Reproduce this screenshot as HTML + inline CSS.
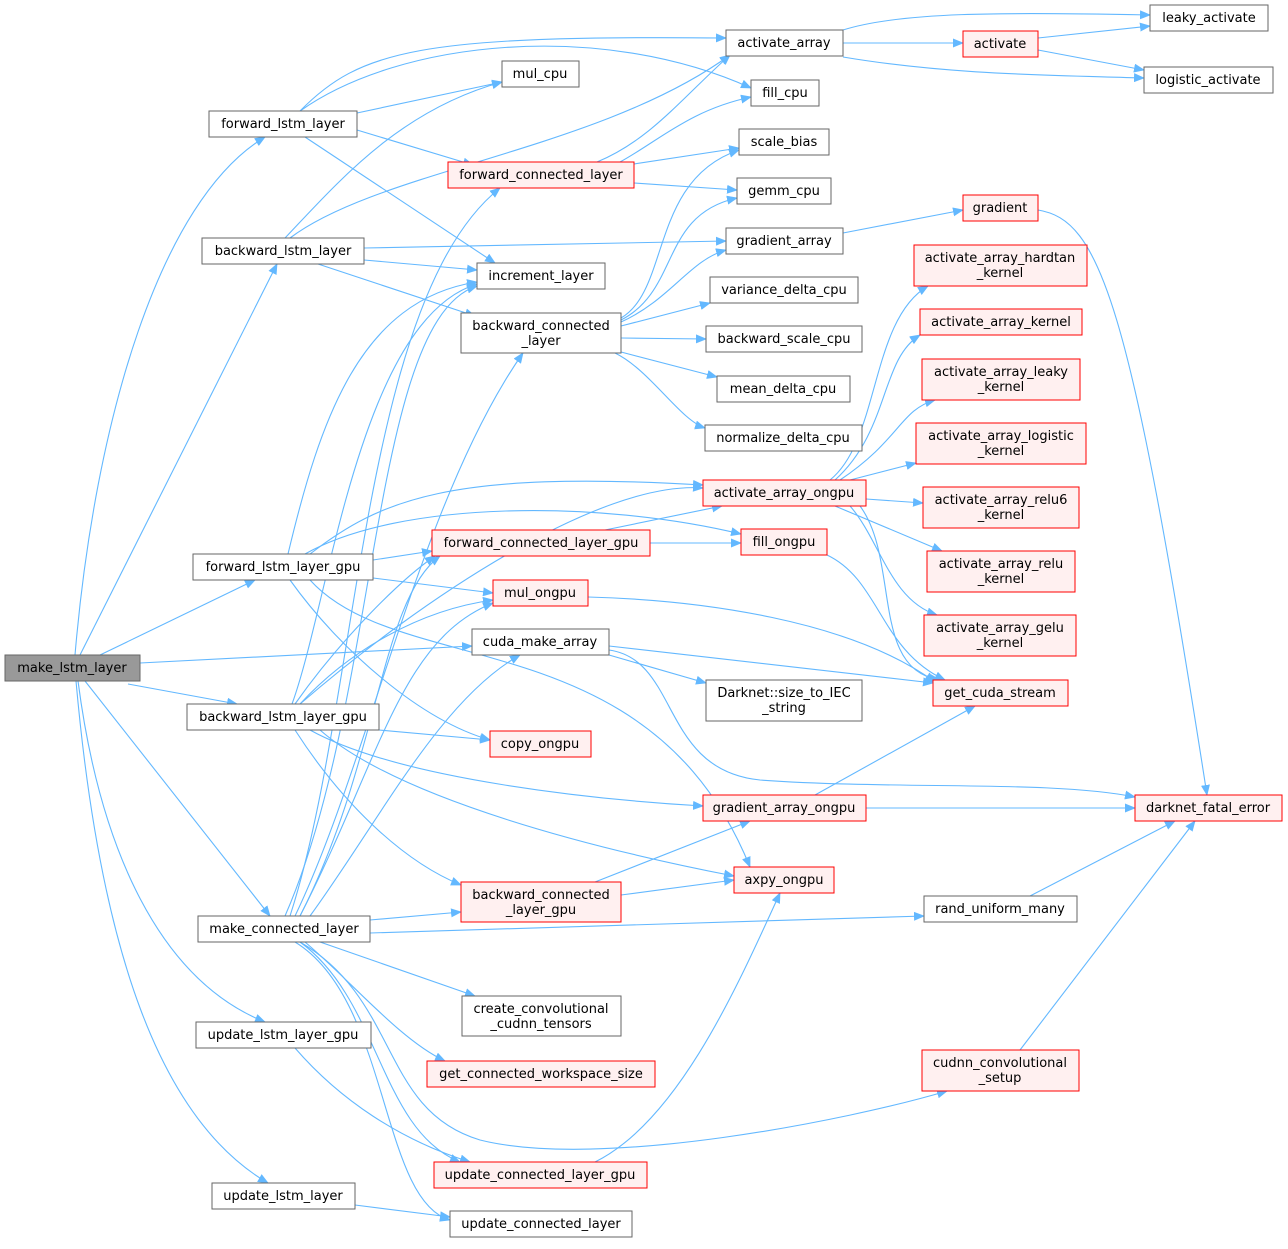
<!DOCTYPE html>
<html><head><meta charset="utf-8"><style>
html,body{margin:0;padding:0;background:#fff}
svg text{font-family:"DejaVu Sans","Liberation Sans",sans-serif;font-size:13px;fill:#000;text-anchor:middle}
.e{fill:none;stroke:#63b8ff;stroke-width:1.1;marker-end:url(#a)}
.n{fill:#fff;stroke:#666;stroke-width:1}
.r{fill:#fff0f0;stroke:#f00;stroke-width:1}
.g{fill:#999;stroke:#666;stroke-width:1}
</style></head><body>
<svg width="1288" height="1244" viewBox="0 0 1288 1244" xmlns="http://www.w3.org/2000/svg">
<defs><marker id="a" markerWidth="11" markerHeight="9" refX="10" refY="4.5" orient="auto" markerUnits="userSpaceOnUse"><path d="M0,0L11,4.5L0,9z" fill="#63b8ff"/></marker></defs>
<g>
<path class="e" d="M75,655 C95,420 160,200 265,137"/>
<path class="e" d="M80,655 L277,264"/>
<path class="e" d="M100,655 L255,580"/>
<path class="e" d="M140,663 L472,646"/>
<path class="e" d="M128,684 L237,704"/>
<path class="e" d="M85,681 L270,916"/>
<path class="e" d="M78,681 C100,850 160,980 265,1022"/>
<path class="e" d="M76,681 C100,950 160,1120 268,1183"/>
<path class="e" d="M300,111 C360,50 420,35 726,38"/>
<path class="e" d="M300,111 C400,40 600,20 751,88"/>
<path class="e" d="M357,113 L502,82"/>
<path class="e" d="M357,130 L473,165"/>
<path class="e" d="M305,137 L495,263"/>
<path class="e" d="M285,238 C340,180 400,110 502,82"/>
<path class="e" d="M290,238 C380,170 600,150 730,55"/>
<path class="e" d="M364,248 L726,241"/>
<path class="e" d="M364,260 L477,270"/>
<path class="e" d="M318,264 L475,316"/>
<path class="e" d="M597,162 C650,140 680,100 730,55"/>
<path class="e" d="M620,162 C660,140 690,110 751,97"/>
<path class="e" d="M634,164 L739,148"/>
<path class="e" d="M634,183 L737,190"/>
<path class="e" d="M621,318 C670,290 650,180 739,150"/>
<path class="e" d="M621,320 C680,290 660,215 737,198"/>
<path class="e" d="M621,322 C670,300 690,260 726,250"/>
<path class="e" d="M621,326 L710,303"/>
<path class="e" d="M621,338 L706,339"/>
<path class="e" d="M621,352 L717,377"/>
<path class="e" d="M615,353 C650,370 680,420 705,428"/>
<path class="e" d="M288,554 C320,420 360,300 477,282"/>
<path class="e" d="M310,554 C380,500 450,470 703,485"/>
<path class="e" d="M305,554 C400,500 600,500 741,534"/>
<path class="e" d="M373,560 L432,551"/>
<path class="e" d="M373,578 L493,593"/>
<path class="e" d="M290,580 C340,650 420,720 490,740"/>
<path class="e" d="M310,580 C400,680 650,620 750,867"/>
<path class="e" d="M292,704 C330,600 360,320 477,284"/>
<path class="e" d="M300,704 C420,600 600,480 703,488"/>
<path class="e" d="M300,704 C350,650 420,610 493,600"/>
<path class="e" d="M379,730 L490,740"/>
<path class="e" d="M310,730 C400,780 600,800 703,806"/>
<path class="e" d="M320,730 C400,800 600,850 734,876"/>
<path class="e" d="M295,730 C340,800 400,860 461,885"/>
<path class="e" d="M295,704 C340,640 400,580 435,556"/>
<path class="e" d="M290,916 C360,700 360,300 500,188"/>
<path class="e" d="M295,916 C370,760 420,500 523,353"/>
<path class="e" d="M285,916 C380,700 370,320 477,286"/>
<path class="e" d="M300,916 C380,760 380,600 440,556"/>
<path class="e" d="M300,916 C380,760 400,640 493,603"/>
<path class="e" d="M310,916 C380,820 440,700 520,655"/>
<path class="e" d="M370,920 L461,912"/>
<path class="e" d="M370,933 L924,916"/>
<path class="e" d="M320,942 L475,996"/>
<path class="e" d="M305,942 C350,980 400,1040 445,1061"/>
<path class="e" d="M300,942 C380,1000 380,1130 460,1162"/>
<path class="e" d="M295,942 C390,1000 380,1200 450,1220"/>
<path class="e" d="M300,942 C400,1000 380,1110 480,1140 C600,1170 850,1120 947,1091"/>
<path class="e" d="M295,1048 C340,1100 400,1140 470,1162"/>
<path class="e" d="M355,1205 L450,1217"/>
<path class="e" d="M843,30 C900,12 1000,12 1150,15"/>
<path class="e" d="M843,43 L963,43"/>
<path class="e" d="M843,57 C950,75 1050,75 1144,78"/>
<path class="e" d="M1038,38 L1150,26"/>
<path class="e" d="M1038,50 L1144,70"/>
<path class="e" d="M843,233 L963,210"/>
<path class="e" d="M1038,210 C1100,220 1130,300 1207,795"/>
<path class="e" d="M830,480 C880,440 870,320 928,286"/>
<path class="e" d="M835,480 C890,430 880,360 920,335"/>
<path class="e" d="M840,480 C900,440 900,410 935,400"/>
<path class="e" d="M850,480 L916,463"/>
<path class="e" d="M866,499 L923,503"/>
<path class="e" d="M835,506 L942,551"/>
<path class="e" d="M850,506 C880,540 890,600 937,615"/>
<path class="e" d="M860,506 C900,560 870,670 940,680"/>
<path class="e" d="M605,530 L722,506"/>
<path class="e" d="M650,543 L741,543"/>
<path class="e" d="M827,555 C880,580 880,650 945,680"/>
<path class="e" d="M588,597 C700,600 850,620 935,682"/>
<path class="e" d="M609,646 L933,683"/>
<path class="e" d="M609,655 L706,683"/>
<path class="e" d="M609,650 C680,660 660,770 760,780 C900,790 1050,780 1135,797"/>
<path class="e" d="M815,795 L975,706"/>
<path class="e" d="M866,808 L1135,808"/>
<path class="e" d="M595,882 L750,821"/>
<path class="e" d="M621,895 L734,880"/>
<path class="e" d="M595,1162 C680,1120 740,980 780,893"/>
<path class="e" d="M1030,896 L1175,821"/>
<path class="e" d="M1020,1050 L1195,821"/>
</g>
<g>
<rect class="g" x="5" y="655" width="135" height="26"/><text x="72" y="672">make_lstm_layer</text>
<rect class="n" x="209" y="111" width="148" height="26"/><text x="283" y="128">forward_lstm_layer</text>
<rect class="n" x="202" y="238" width="162" height="26"/><text x="283" y="255">backward_lstm_layer</text>
<rect class="n" x="193" y="554" width="180" height="26"/><text x="283" y="571">forward_lstm_layer_gpu</text>
<rect class="n" x="187" y="704" width="192" height="26"/><text x="283" y="721">backward_lstm_layer_gpu</text>
<rect class="n" x="198" y="916" width="172" height="26"/><text x="284" y="933">make_connected_layer</text>
<rect class="n" x="196" y="1022" width="175" height="26"/><text x="283" y="1039">update_lstm_layer_gpu</text>
<rect class="n" x="212" y="1183" width="143" height="26"/><text x="283" y="1200">update_lstm_layer</text>
<rect class="n" x="502" y="61" width="77" height="26"/><text x="540" y="78">mul_cpu</text>
<rect class="r" x="448" y="162" width="186" height="26"/><text x="541" y="179">forward_connected_layer</text>
<rect class="n" x="477" y="263" width="128" height="26"/><text x="541" y="280">increment_layer</text>
<rect class="n" x="461" y="313" width="160" height="40"/><text x="541" y="330">backward_connected</text><text x="541" y="345">_layer</text>
<rect class="r" x="432" y="530" width="218" height="26"/><text x="541" y="547">forward_connected_layer_gpu</text>
<rect class="r" x="493" y="580" width="95" height="26"/><text x="540" y="597">mul_ongpu</text>
<rect class="n" x="472" y="629" width="137" height="26"/><text x="540" y="646">cuda_make_array</text>
<rect class="r" x="490" y="731" width="101" height="26"/><text x="540" y="748">copy_ongpu</text>
<rect class="r" x="461" y="882" width="160" height="40"/><text x="541" y="899">backward_connected</text><text x="541" y="914">_layer_gpu</text>
<rect class="n" x="462" y="996" width="159" height="40"/><text x="541" y="1013">create_convolutional</text><text x="541" y="1028">_cudnn_tensors</text>
<rect class="r" x="427" y="1061" width="228" height="26"/><text x="541" y="1078">get_connected_workspace_size</text>
<rect class="r" x="434" y="1162" width="213" height="26"/><text x="540" y="1179">update_connected_layer_gpu</text>
<rect class="n" x="450" y="1211" width="182" height="26"/><text x="541" y="1228">update_connected_layer</text>
<rect class="n" x="726" y="30" width="117" height="26"/><text x="784" y="47">activate_array</text>
<rect class="n" x="751" y="80" width="68" height="26"/><text x="785" y="97">fill_cpu</text>
<rect class="n" x="739" y="129" width="90" height="26"/><text x="784" y="146">scale_bias</text>
<rect class="n" x="737" y="178" width="94" height="26"/><text x="784" y="195">gemm_cpu</text>
<rect class="n" x="726" y="228" width="117" height="26"/><text x="784" y="245">gradient_array</text>
<rect class="n" x="710" y="277" width="148" height="26"/><text x="784" y="294">variance_delta_cpu</text>
<rect class="n" x="706" y="326" width="156" height="26"/><text x="784" y="343">backward_scale_cpu</text>
<rect class="n" x="717" y="376" width="133" height="26"/><text x="783" y="393">mean_delta_cpu</text>
<rect class="n" x="705" y="425" width="157" height="26"/><text x="783" y="442">normalize_delta_cpu</text>
<rect class="r" x="703" y="480" width="163" height="26"/><text x="784" y="497">activate_array_ongpu</text>
<rect class="r" x="741" y="529" width="86" height="26"/><text x="784" y="546">fill_ongpu</text>
<rect class="n" x="706" y="680" width="156" height="41"/><text x="784" y="697">Darknet::size_to_IEC</text><text x="784" y="712">_string</text>
<rect class="r" x="703" y="795" width="163" height="26"/><text x="784" y="812">gradient_array_ongpu</text>
<rect class="r" x="734" y="867" width="100" height="26"/><text x="784" y="884">axpy_ongpu</text>
<rect class="r" x="963" y="31" width="75" height="26"/><text x="1000" y="48">activate</text>
<rect class="r" x="963" y="195" width="75" height="26"/><text x="1000" y="212">gradient</text>
<rect class="r" x="914" y="245" width="173" height="41"/><text x="1000" y="262">activate_array_hardtan</text><text x="1000" y="277">_kernel</text>
<rect class="r" x="920" y="309" width="162" height="26"/><text x="1001" y="326">activate_array_kernel</text>
<rect class="r" x="922" y="359" width="158" height="41"/><text x="1001" y="376">activate_array_leaky</text><text x="1001" y="391">_kernel</text>
<rect class="r" x="916" y="423" width="170" height="41"/><text x="1001" y="440">activate_array_logistic</text><text x="1001" y="455">_kernel</text>
<rect class="r" x="923" y="487" width="156" height="41"/><text x="1001" y="504">activate_array_relu6</text><text x="1001" y="519">_kernel</text>
<rect class="r" x="927" y="551" width="148" height="41"/><text x="1001" y="568">activate_array_relu</text><text x="1001" y="583">_kernel</text>
<rect class="r" x="924" y="615" width="152" height="41"/><text x="1000" y="632">activate_array_gelu</text><text x="1000" y="647">_kernel</text>
<rect class="r" x="933" y="680" width="135" height="26"/><text x="1000" y="697">get_cuda_stream</text>
<rect class="n" x="924" y="896" width="153" height="26"/><text x="1000" y="913">rand_uniform_many</text>
<rect class="r" x="922" y="1050" width="157" height="41"/><text x="1000" y="1067">cudnn_convolutional</text><text x="1000" y="1082">_setup</text>
<rect class="n" x="1150" y="5" width="118" height="26"/><text x="1209" y="22">leaky_activate</text>
<rect class="n" x="1144" y="67" width="129" height="26"/><text x="1208" y="84">logistic_activate</text>
<rect class="r" x="1135" y="795" width="147" height="26"/><text x="1208" y="812">darknet_fatal_error</text>
</g>
</svg>
</body></html>
